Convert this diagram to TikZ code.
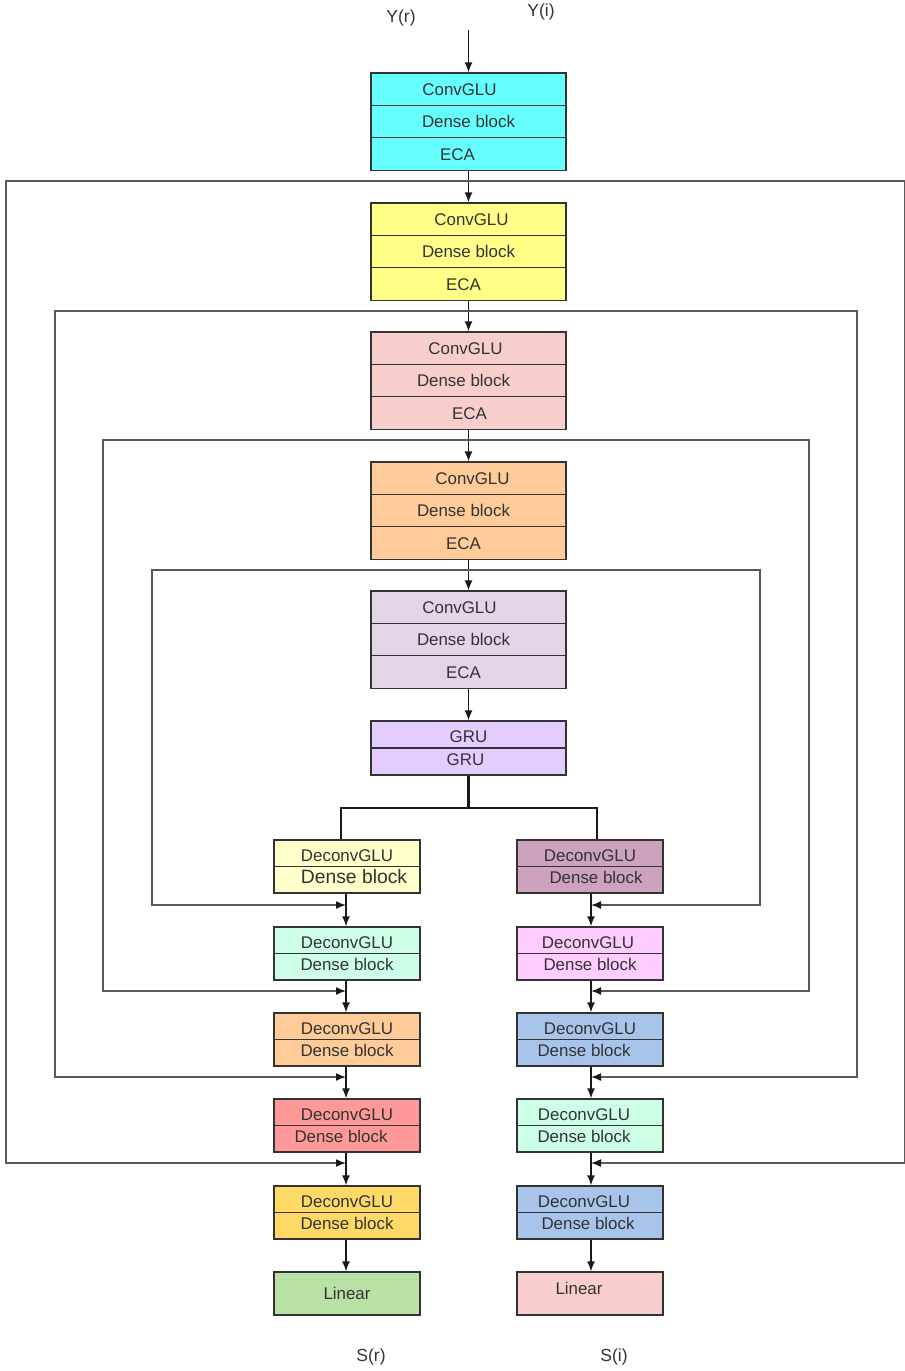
\documentclass[tikz,border=0pt]{standalone}
\usepackage{fontspec}
\setmainfont{Liberation Sans}
\usetikzlibrary{arrows.meta,calc}
\definecolor{cEa}{HTML}{66FFFF}
\definecolor{cEb}{HTML}{FFFF88}
\definecolor{cEc}{HTML}{F8CECC}
\definecolor{cEd}{HTML}{FFCC99}
\definecolor{cEe}{HTML}{E1D5E7}
\definecolor{cGru}{HTML}{E5CCFF}
\definecolor{cLa}{HTML}{FFFFCC}
\definecolor{cRa}{HTML}{CDA2BE}
\definecolor{cLb}{HTML}{CCFFE6}
\definecolor{cRb}{HTML}{FFCCFF}
\definecolor{cLc}{HTML}{FFCC99}
\definecolor{cRc}{HTML}{A9C4EB}
\definecolor{cLd}{HTML}{FF9999}
\definecolor{cRd}{HTML}{CCFFE6}
\definecolor{cLe}{HTML}{FFD966}
\definecolor{cRe}{HTML}{A9C4EB}
\definecolor{cLinL}{HTML}{B9E0A5}
\definecolor{cLinR}{HTML}{F8CECC}
\definecolor{txt}{HTML}{333333}
\newcommand\shft[2]{\hspace*{#1}#2\hspace*{-#1}}
\begin{document}
\begin{tikzpicture}[x=1pt,y=-1pt,
  box/.style={draw=black!80, line width=1.3pt, inner sep=0pt, text=txt,
    font=\fontsize{16.9}{19}\selectfont, text height=14pt, text depth=2pt},
  lo/.style={text height=16pt, text depth=0pt},
  hi/.style={text height=12pt, text depth=4pt},
  enc/.style={box, minimum width=195pt, minimum height=32.4pt},
  grurow/.style={box, minimum width=195pt, minimum height=27pt},
  dec/.style={box, minimum width=146pt, minimum height=26.5pt},
  lin/.style={box, minimum width=146pt, minimum height=43pt},
  arr/.style={draw=black!90, line width=1.4pt, -{Latex[length=10pt,width=8pt]}},
  skipl/.style={draw=black!65, line width=1.5pt, -{Latex[length=10pt,width=8pt,color=black!90,fill=black!90]}},
  thick2/.style={draw=black!90, line width=2.6pt},
  lab/.style={text=txt, font=\fontsize{17.5}{20}\selectfont}]
\useasboundingbox (0,0) rectangle (905,1371);

% labels
\node[lab] (yr) at (401,18) {Y(r)};
\node[lab] (yi) at (541,12) {Y(i)};
\node[lab] (sr) at (371,1357) {S(r)};
\node[lab] (si) at (614,1357) {S(i)};
\coordinate (in) at (468.5,30);

% encoder blocks
\foreach \k/\t/\c/\da/\db/\dc in {1/73/cEa/-9pt/0pt/-11pt, 2/203/cEb/3pt/0pt/-5pt, 3/332/cEc/-3pt/-5pt/1pt, 4/462/cEd/4pt/-5pt/-5pt, 5/591/cEe/-9pt/-5pt/-5pt}{
  \node[enc, fill=\c] (e\k a) at (468.5,\t+16.2) {\shft{\da}{ConvGLU}};
  \node[enc, fill=\c] (e\k b) at (468.5,\t+48.6) {\shft{\db}{Dense block}};
  \node[enc, fill=\c] (e\k c) at (468.5,\t+81) {\shft{\dc}{ECA}};
}
% GRU
\node[grurow, lo, fill=cGru] (g1) at (468.5,734.5) {GRU};
\node[grurow, hi, fill=cGru] (g2) at (468.5,761.5) {\shft{-3pt}{GRU}};

% decoder left
\node[dec, lo, fill=cLa] (l1a) at (347,853.2) {DeconvGLU};
\node[dec, hi, fill=cLa, font=\fontsize{19.3}{21}\selectfont] (l1b) at (347,879.7) {\shft{7pt}{Dense block}};
\node[dec, lo, fill=cLb] (l2a) at (347,940.2) {DeconvGLU};
\node[dec, hi, fill=cLb] (l2b) at (347,966.7) {Dense block};
\node[dec, lo, fill=cLc] (l3a) at (347,1026.2) {DeconvGLU};
\node[dec, hi, fill=cLc] (l3b) at (347,1052.7) {Dense block};
\node[dec, lo, fill=cLd] (l4a) at (347,1112.2) {DeconvGLU};
\node[dec, hi, fill=cLd] (l4b) at (347,1138.7) {\shft{-6pt}{Dense block}};
\node[dec, lo, fill=cLe] (l5a) at (347,1199.2) {DeconvGLU};
\node[dec, hi, fill=cLe] (l5b) at (347,1225.7) {Dense block};
\node[lin, fill=cLinL] (linl) at (347,1293.5) {Linear};

% decoder right
\node[dec, lo, fill=cRa] (r1a) at (590,853.2) {DeconvGLU};
\node[dec, hi, fill=cRa] (r1b) at (590,879.7) {\shft{6pt}{Dense block}};
\node[dec, lo, fill=cRb] (r2a) at (590,940.2) {\shft{-2pt}{DeconvGLU}};
\node[dec, hi, fill=cRb] (r2b) at (590,966.7) {Dense block};
\node[dec, lo, fill=cRc] (r3a) at (590,1026.2) {DeconvGLU};
\node[dec, hi, fill=cRc] (r3b) at (590,1052.7) {\shft{-6pt}{Dense block}};
\node[dec, lo, fill=cRd] (r4a) at (590,1112.2) {\shft{-6pt}{DeconvGLU}};
\node[dec, hi, fill=cRd] (r4b) at (590,1138.7) {\shft{-6pt}{Dense block}};
\node[dec, lo, fill=cRe] (r5a) at (590,1199.2) {\shft{-6pt}{DeconvGLU}};
\node[dec, hi, fill=cRe] (r5b) at (590,1225.7) {\shft{-2pt}{Dense block}};
\node[lin, fill=cLinR, text height=9.5pt, text depth=7pt] (linr) at (590,1293.5) {\shft{-11pt}{Linear}};

% main encoder arrows
\draw[arr] (in) -- (e1a.north);
\draw[arr] (e1c.south) -- (e2a.north);
\draw[arr] (e2c.south) -- (e3a.north);
\draw[arr] (e3c.south) -- (e4a.north);
\draw[arr] (e4c.south) -- (e5a.north);
\draw[arr] (e5c.south) -- (g1.north);

% GRU split
\coordinate (split) at (468.5,808);
\coordinate (splL) at (341,808);
\coordinate (splR) at (597,808);
\draw[thick2] (g2.south) -- (split);
\draw[thick2, line cap=rect] (splL) -- (splR);
\draw[thick2] (splL) -- (splL |- l1a.north);
\draw[thick2] (splR) -- (splR |- r1a.north);

% decoder arrows
\draw[arr] (l1b.south -| 346,0) -- (l2a.north -| 346,0);
\draw[arr] (l2b.south -| 346,0) -- (l3a.north -| 346,0);
\draw[arr] (l3b.south -| 346,0) -- (l4a.north -| 346,0);
\draw[arr] (l4b.south -| 346,0) -- (l5a.north -| 346,0);
\draw[arr] (l5b.south -| 346,0) -- (linl.north -| 346,0);
\draw[arr] (r1b.south -| 591,0) -- (r2a.north -| 591,0);
\draw[arr] (r2b.south -| 591,0) -- (r3a.north -| 591,0);
\draw[arr] (r3b.south -| 591,0) -- (r4a.north -| 591,0);
\draw[arr] (r4b.south -| 591,0) -- (r5a.north -| 591,0);
\draw[arr] (r5b.south -| 591,0) -- (linr.north -| 591,0);

% skip connections
\foreach \k/\y/\xl/\xr/\yd in {1/181/6/905/1163, 2/311/55/857/1077, 3/440/103/809/991, 4/570/152/760/905}{
  \coordinate (j\k) at (468.5,\y);
  \coordinate (cl\k) at (\xl,\y);
  \coordinate (cr\k) at (\xr,\y);
  \coordinate (tl\k) at (346,\yd);
  \coordinate (tr\k) at (591,\yd);
  \draw[skipl] (j\k) -- (cl\k) |- (tl\k);
  \draw[skipl] (j\k) -- (cr\k) |- (tr\k);
}
\end{tikzpicture}
\end{document}
